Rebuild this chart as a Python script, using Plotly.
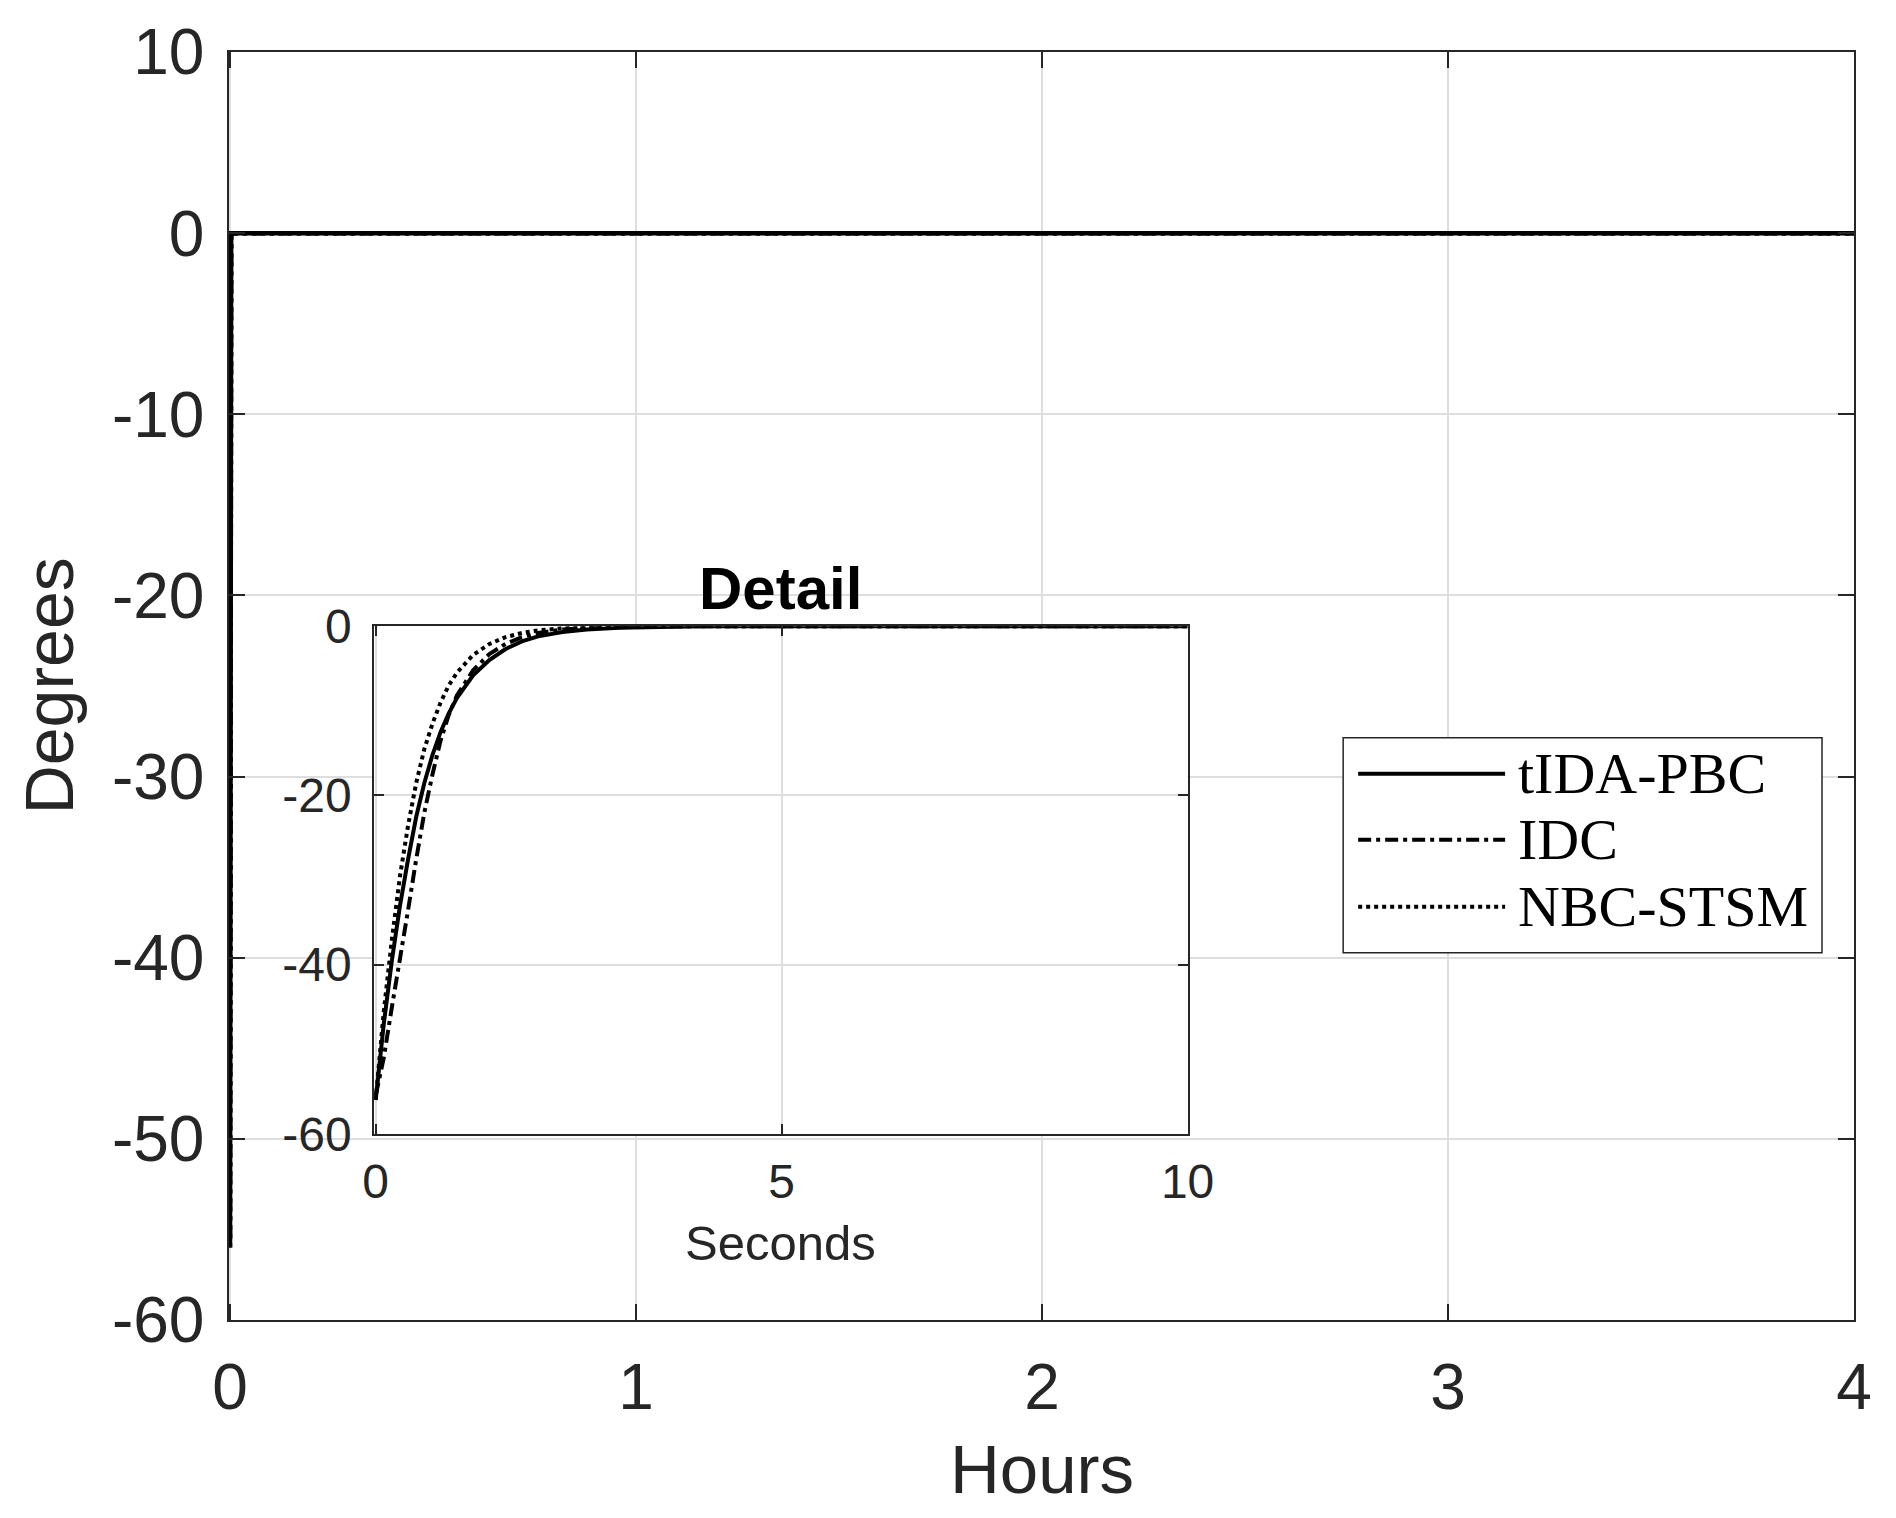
import plotly.graph_objects as go

# Simulated response (degrees) read off the "Detail" inset, time in seconds
series_names = ["tIDA-PBC", "IDC", "NBC-STSM"]

t_tida = [0, 0.1, 0.2, 0.3, 0.4, 0.5, 0.6, 0.7, 0.8, 0.9, 1.0, 1.2, 1.4, 1.6, 1.8, 2.0, 2.3, 2.6, 3.0, 3.5, 4.0, 10]
y_tida = [-56, -47, -39.5, -33, -27.5, -22.5, -18.5, -15.2, -12.5, -10.3, -8.5, -5.8, -4.0, -2.7, -1.8, -1.2, -0.7, -0.4, -0.2, -0.1, 0, 0]

t_idc = [0, 0.1, 0.2, 0.3, 0.4, 0.5, 0.6, 0.7, 0.8, 0.9, 1.0, 1.2, 1.4, 1.6, 1.8, 2.0, 2.3, 2.6, 3.0, 3.5, 10]
y_idc = [-55.5, -51, -45, -39.5, -33.5, -27.5, -22, -17.5, -13.5, -10.5, -8.2, -5.2, -3.3, -2.1, -1.3, -0.8, -0.4, -0.2, -0.1, 0, 0]

t_nbc = [0, 0.1, 0.2, 0.3, 0.4, 0.5, 0.6, 0.7, 0.8, 0.9, 1.0, 1.2, 1.4, 1.6, 1.8, 2.0, 2.3, 2.6, 3.0, 10]
y_nbc = [-56, -45.5, -37, -29.5, -23.5, -18.5, -14.5, -11.5, -9.0, -7.0, -5.5, -3.4, -2.1, -1.3, -0.8, -0.5, -0.25, -0.1, 0, 0]

# whole run lasts 4 hours, settled at 0 after the first seconds
run_end_hours = 4
final_value = 0

main_xticks = [0, 1, 2, 3, 4]
main_yticks = [10, 0, -10, -20, -30, -40, -50, -60]
inset_xticks = [0, 5, 10]
inset_yticks = [0, -20, -40, -60]

W, H = 1896, 1518
OFF = 8  # page body margin
ML, MR, MT, MB = 220.5, 50, 44, 205.5
PW, PH = W - ML - MR, H - MT - MB


# page pixel -> paper coords
def px(x):
    return (x - OFF - ML) / PW


def py(y):
    return (H - MB - (y - OFF)) / PH


AX = "#262626"
GRID = "#dedede"
dashes = ["solid", "13px,5px,4px,5px", "dot"]
data = [(t_tida, y_tida), (t_idc, y_idc), (t_nbc, y_nbc)]

fig = go.Figure()

# main plot (hours)
for (t, y), dash, name in zip(data, dashes, series_names):
    fig.add_trace(go.Scatter(
        x=[s / 3600 for s in t] + [run_end_hours], y=y + [final_value],
        mode="lines", name=name, showlegend=False,
        line=dict(color="black", width=4.5, dash=dash),
        xaxis="x", yaxis="y",
    ))

# inset (seconds)
for (t, y), dash, name in zip(data, dashes, series_names):
    fig.add_trace(go.Scatter(
        x=t, y=y, mode="lines", name=name, showlegend=False,
        line=dict(color="black", width=4, dash=dash),
        xaxis="x2", yaxis="y2",
    ))

axis_common = dict(showline=True, mirror="ticks", linecolor=AX, linewidth=1.5,
                   ticks="inside", tickcolor=AX, tickwidth=1.5, automargin=False,
                   showgrid=True, gridcolor=GRID, gridwidth=1.5, zeroline=False)


def labels(vals):
    return [str(v) for v in vals]


# x ranges start a hair below 0 so the line drawn on the left axis is not clipped
fig.update_layout(
    width=W, height=H,
    margin=dict(l=ML, r=MR, t=MT, b=MB),
    paper_bgcolor="white", plot_bgcolor="white",
    font=dict(family="Liberation Sans, Arial", color=AX),
    xaxis=dict(domain=[0, 1], range=[-0.0025, 4], tickvals=main_xticks, ticktext=labels(main_xticks),
               ticklen=16, tickfont=dict(size=64), ticklabelstandoff=10, **axis_common),
    yaxis=dict(domain=[0, 1], range=[-60, 10], tickvals=main_yticks, ticktext=labels(main_yticks),
               ticklen=16, tickfont=dict(size=64), ticklabelstandoff=10, **axis_common),
    xaxis2=dict(domain=[px(373.6), px(1187.4)], range=[-0.02, 10], tickvals=inset_xticks,
                ticktext=labels(inset_xticks), anchor="y2", ticklen=10,
                tickfont=dict(size=48), ticklabelstandoff=5, **axis_common),
    yaxis2=dict(domain=[py(1134.2), py(626.4)], range=[-60, 0], tickvals=inset_yticks,
                ticktext=labels(inset_yticks), anchor="x2", ticklen=10,
                tickfont=dict(size=48), ticklabelstandoff=11, **axis_common),
)

annotations = [
    dict(text="Hours", x=px(1042), y=py(1470), font=dict(size=69)),
    dict(text="Degrees", x=px(48), y=py(686), font=dict(size=68), textangle=-90),
    dict(text="Seconds", x=px(780), y=py(1243), font=dict(size=49)),
    dict(text="<b>Detail</b>", x=px(780), y=py(589), font=dict(size=60, color="black")),
]

# legend drawn by hand so the line samples can be long
legend_box = dict(type="rect", xref="paper", yref="paper",
                  x0=px(1343), x1=px(1822), y0=py(953), y1=py(738),
                  fillcolor="white", line=dict(color=AX, width=1.5), layer="above")
shapes = [legend_box]
legend_rows = [774, 840, 907]
for row, dash, name in zip(legend_rows, dashes, series_names):
    shapes.append(dict(type="line", xref="paper", yref="paper",
                       x0=px(1358), x1=px(1505), y0=py(row), y1=py(row),
                       line=dict(color="black", width=4, dash=dash), layer="above"))
    annotations.append(dict(text=name, x=px(1516), y=py(row), xanchor="left",
                            font=dict(size=58, family="Liberation Serif", color="black")))

for a in annotations:
    a.setdefault("xanchor", "center")
    a.update(xref="paper", yref="paper", yanchor="middle", showarrow=False)

fig.update_layout(annotations=annotations, shapes=shapes)

fig.write_html("out.html")
